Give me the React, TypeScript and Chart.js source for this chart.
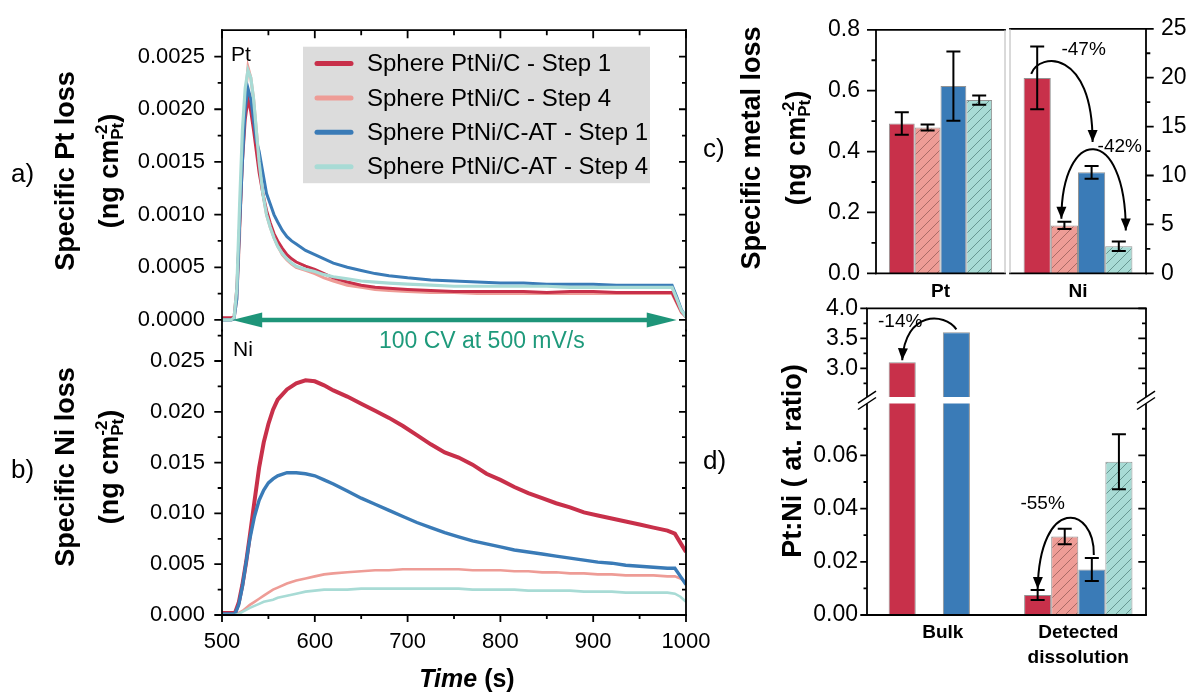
import React, { useEffect, useRef } from 'react';
import { Chart, registerables } from 'chart.js';

Chart.register(...registerables);

const W = 1190;
const H = 693;
const FONT = "'Liberation Sans', Arial, Helvetica, sans-serif";

// ---------------- Data ----------------
const seriesLabels = [
  'Sphere PtNi/C - Step 1',
  'Sphere PtNi/C - Step 4',
  'Sphere PtNi/C-AT - Step 1',
  'Sphere PtNi/C-AT - Step 4',
];
const seriesColors = ['#C8304A', '#EE9C96', '#3A7BB7', '#A8DBD5'];

// a) specific Pt loss vs time
const timePt = [500, 505, 510, 513, 516, 519, 522, 525, 528, 531, 534, 537, 540, 544, 548, 552, 556, 560, 565, 570, 575, 580, 590, 600, 610, 620, 635, 650, 665, 680, 700, 725, 750, 775, 800, 825, 850, 875, 900, 925, 950, 970, 985, 990, 995, 1000];
const ptStep1 = [0.00002, 0.00002, 0.00002, 0.00003, 0.0003, 0.0009, 0.0015, 0.0019, 0.0021, 0.00198,
  0.0018, 0.0016, 0.0014, 0.0012, 0.00104, 0.00092, 0.00082, 0.00075, 0.00068, 0.00062,
  0.00058, 0.00055, 0.00051, 0.00048, 0.00044, 0.0004, 0.00036, 0.00033, 0.00031, 0.0003,
  0.00029, 0.00028, 0.00027, 0.00027, 0.00027, 0.00027, 0.00026, 0.00027, 0.00027, 0.00026,
  0.00026, 0.00026, 0.00026, 0.00017, 0.00008, 0.00003];
const ptStep4 = [0, 0, 0, 0.00001, 0.0002, 0.0008, 0.0016, 0.0021, 0.0024, 0.0023,
  0.0021, 0.0018, 0.0015, 0.0012, 0.001, 0.00088, 0.00078, 0.0007, 0.00062, 0.00057,
  0.00053, 0.0005, 0.00047, 0.00044, 0.0004, 0.00037, 0.00033, 0.00031, 0.00029, 0.00028,
  0.00027, 0.00026, 0.00026, 0.00025, 0.00025, 0.00025, 0.00025, 0.00025, 0.00025, 0.00025,
  0.00025, 0.00025, 0.00025, 0.00016, 0.00007, 0.00003];
const ptAtStep1 = [0, 0, 0, 0.00001, 0.0002, 0.0009, 0.0015, 0.002, 0.0022, 0.0021,
  0.0019, 0.0017, 0.0016, 0.0014, 0.0012, 0.0011, 0.001, 0.00093, 0.00085, 0.00079,
  0.00075, 0.00072, 0.00066, 0.00062, 0.00058, 0.00054, 0.0005, 0.00047, 0.00044, 0.00042,
  0.0004, 0.00038, 0.00037, 0.00036, 0.00035, 0.00035, 0.00034, 0.00034, 0.00034, 0.00033,
  0.00033, 0.00033, 0.00033, 0.00022, 0.0001, 0.00003];
const ptAtStep4 = [0, 0, 0, 0.00002, 0.0003, 0.0011, 0.0018, 0.0022, 0.00237, 0.0023,
  0.0021, 0.0018, 0.0015, 0.0012, 0.001, 0.00088, 0.00078, 0.0007, 0.00063, 0.00058,
  0.00054, 0.00051, 0.00048, 0.00046, 0.00043, 0.00041, 0.00039, 0.00037, 0.00036, 0.00035,
  0.00034, 0.00033, 0.00032, 0.00032, 0.00032, 0.00032, 0.00032, 0.00031, 0.00031, 0.00031,
  0.00031, 0.00031, 0.00031, 0.0002, 0.00009, 0.00003];

// b) specific Ni loss vs time
const timeNi = [500, 510, 514, 518, 522, 526, 530, 535, 540, 545, 550, 555, 560, 570, 580, 590, 600, 610, 620, 635, 650, 665, 680, 695, 710, 725, 740, 755, 770, 785, 800, 815, 830, 845, 860, 875, 890, 905, 920, 935, 950, 965, 980, 988, 994, 1000];
const niStep1 = [0.0002, 0.0002, 0.0002, 0.0012, 0.003, 0.0052, 0.0078, 0.0112, 0.0145, 0.017,
  0.0188, 0.0202, 0.0212, 0.0222, 0.0228, 0.0231, 0.023, 0.0226, 0.0221, 0.0215,
  0.0208, 0.0201, 0.0194, 0.0186, 0.0177, 0.0168, 0.016, 0.0155, 0.0148, 0.0139,
  0.0133, 0.0126, 0.012, 0.0115, 0.011, 0.0106, 0.0101, 0.0098, 0.0095, 0.0092,
  0.0089, 0.0086, 0.0083, 0.008, 0.0071, 0.0062];
const niStep4 = [0, 0, 0, 0.0002, 0.0004, 0.0007, 0.001, 0.0013, 0.0016, 0.0019,
  0.0022, 0.0025, 0.0027, 0.0031, 0.0034, 0.0036, 0.0038, 0.004, 0.0041, 0.0042,
  0.0043, 0.0044, 0.0044, 0.0045, 0.0045, 0.0045, 0.0045, 0.0045, 0.0044, 0.0044,
  0.0044, 0.0043, 0.0043, 0.0042, 0.0042, 0.0041, 0.0041, 0.004, 0.004, 0.0039,
  0.0039, 0.0039, 0.0038, 0.0038, 0.0036, 0.0032];
const niAtStep1 = [0.0001, 0.0001, 0.0001, 0.001, 0.0028, 0.0052, 0.0075, 0.0097, 0.0113, 0.0123,
  0.013, 0.0134, 0.0137, 0.014, 0.014, 0.0139, 0.0137, 0.0133, 0.0129, 0.0122,
  0.0115, 0.0109, 0.0103, 0.0097, 0.0091, 0.0086, 0.0081, 0.0077, 0.0073, 0.007,
  0.0067, 0.0064, 0.0062, 0.006, 0.0058, 0.0056, 0.0054, 0.0052, 0.0051, 0.0049,
  0.0048, 0.0047, 0.0046, 0.0046, 0.0038, 0.003];
const niAtStep4 = [0, 0, 0, 0.0001, 0.0003, 0.0005, 0.0007, 0.0009, 0.0011, 0.0013,
  0.0014, 0.0015, 0.0017, 0.0019, 0.0021, 0.0023, 0.0024, 0.0025, 0.0025, 0.0025,
  0.0026, 0.0026, 0.0026, 0.0026, 0.0026, 0.0026, 0.0026, 0.0026, 0.0025, 0.0025,
  0.0025, 0.0025, 0.0024, 0.0024, 0.0024, 0.0024, 0.0023, 0.0023, 0.0023, 0.0022,
  0.0022, 0.0022, 0.0022, 0.0021, 0.0018, 0.0013];

const ptTicks = [0, 0.0005, 0.001, 0.0015, 0.002, 0.0025];
const ptMinorTicks = [0.00025, 0.00075, 0.00125, 0.00175, 0.00225];
const niTicks = [0, 0.005, 0.01, 0.015, 0.02, 0.025];
const niMinorTicks = [0.0025, 0.0075, 0.0125, 0.0175, 0.0225, 0.0275];
const timeTicks = [500, 600, 700, 800, 900, 1000];
const timeMinorTicks = [550, 650, 750, 850, 950];
const cvArrow = [511, 990];
const cvLabel = '100 CV at 500 mV/s';
const cvLabelAt = 780;

// c) specific metal loss
const lossCategories = ['Pt', 'Ni'];
const ptLoss = [0.492, 0.479, 0.615, 0.569];
const ptLossErr = [0.037, 0.01, 0.114, 0.015];
const niLoss = [19.98, 4.9, 10.33, 2.77];
const niLossErr = [3.2, 0.37, 0.65, 0.48];
const lossLeftTicks = [0, 0.2, 0.4, 0.6, 0.8];
const lossLeftMinor = [0.1, 0.3, 0.5, 0.7];
const lossRightTicks = [0, 5, 10, 15, 20, 25];
const lossRightMinor = [2.5, 7.5, 12.5, 17.5, 22.5];

// d) Pt:Ni ratio
const ratioCategories: any[] = ['Bulk', ['Detected', 'dissolution']];
const ratioStep1 = [3.1, 0.0075];
const ratioStep4 = [null, 0.0295];
const ratioAtStep1 = [3.6, 0.0171];
const ratioAtStep4 = [null, 0.0576];
const ratioErrStep1 = [null, 0.0019];
const ratioErrStep4 = [null, 0.0029];
const ratioErrAtStep1 = [null, 0.0043];
const ratioErrAtStep4 = [null, 0.0103];
const ratioUpperTicks = [3.0, 3.5, 4.0];
const ratioUpperMinor = [2.75, 3.25, 3.75];
const ratioLowerTicks = [0, 0.02, 0.04, 0.06];
const ratioLowerMinor = [0.01, 0.03, 0.05, 0.07];

// ---------------- helpers ----------------
const AXW = 1.8;
const BAR_EDGE = 'rgba(120,120,120,0.8)';
const CV_COLOR = '#1E9579';

function seg(ctx: any, x1: number, y1: number, x2: number, y2: number) {
  ctx.beginPath();
  ctx.moveTo(x1, y1);
  ctx.lineTo(x2, y2);
  ctx.stroke();
}

function tickMarks(ctx: any, scale: any, a: any, side: string, values: number[], len: number, inward: boolean) {
  ctx.beginPath();
  for (const v of values) {
    const p = scale.getPixelForValue(v);
    if (side === 'left') { ctx.moveTo(a.left, p); ctx.lineTo(a.left + (inward ? len : -len), p); }
    else if (side === 'right') { ctx.moveTo(a.right, p); ctx.lineTo(a.right + (inward ? -len : len), p); }
    else if (side === 'top') { ctx.moveTo(p, a.top); ctx.lineTo(p, a.top + (inward ? len : -len)); }
    else { ctx.moveTo(p, a.bottom); ctx.lineTo(p, a.bottom + (inward ? -len : len)); }
  }
  ctx.stroke();
}

function txt(ctx: any, s: string, x: number, y: number, font: string, align = 'left', baseline = 'alphabetic', color = '#000') {
  ctx.font = font;
  ctx.textAlign = align;
  ctx.textBaseline = baseline;
  ctx.fillStyle = color;
  ctx.fillText(s, x, y);
}

type Piece = { t?: string; sup?: string; sub?: string; f: string };
function rich(ctx: any, x: number, y: number, pieces: Piece[], rotate: boolean) {
  ctx.save();
  ctx.translate(x, y);
  if (rotate) ctx.rotate(-Math.PI / 2);
  ctx.textBaseline = 'alphabetic';
  ctx.textAlign = 'left';
  ctx.fillStyle = '#000';
  const widths = pieces.map((p) => {
    ctx.font = p.f;
    if (p.t !== undefined) return ctx.measureText(p.t).width;
    return Math.max(ctx.measureText(p.sup || '').width, ctx.measureText(p.sub || '').width);
  });
  const total = widths.reduce((s, w) => s + w, 0);
  let cx = -total / 2;
  pieces.forEach((p, i) => {
    ctx.font = p.f;
    if (p.t !== undefined) ctx.fillText(p.t, cx, 0);
    else {
      ctx.fillText(p.sup || '', cx, -11);
      ctx.fillText(p.sub || '', cx, 5);
    }
    cx += widths[i];
  });
  ctx.restore();
}

const TF = `bold 27px ${FONT}`;
const SF = `bold 17px ${FONT}`;
const unitPieces: Piece[] = [{ t: '(ng cm', f: TF }, { sup: '-2', sub: 'Pt', f: SF }, { t: ')', f: TF }];

function arrowHead(ctx: any, tx: number, ty: number, fx: number, fy: number, len = 12, half = 5) {
  const ang = Math.atan2(ty - fy, tx - fx);
  const bx = tx - len * Math.cos(ang);
  const by = ty - len * Math.sin(ang);
  ctx.beginPath();
  ctx.moveTo(tx, ty);
  ctx.lineTo(bx + half * Math.sin(ang), by - half * Math.cos(ang));
  ctx.lineTo(bx - half * Math.sin(ang), by + half * Math.cos(ang));
  ctx.closePath();
  ctx.fill();
}

function curvedArrow(ctx: any, S: number[], C1: number[], C2: number[], E: number[], both = false) {
  ctx.strokeStyle = '#000';
  ctx.fillStyle = '#000';
  ctx.lineWidth = 2;
  ctx.beginPath();
  ctx.moveTo(S[0], S[1]);
  ctx.bezierCurveTo(C1[0], C1[1], C2[0], C2[1], E[0], E[1]);
  ctx.stroke();
  arrowHead(ctx, E[0], E[1], C2[0], C2[1]);
  if (both) arrowHead(ctx, S[0], S[1], C1[0], C1[1]);
}

function drawErrors(ctx: any, chart: any, vals: (number | null)[][], errs: (number | null)[][]) {
  const ys = chart.scales.y;
  ctx.strokeStyle = '#000';
  ctx.lineWidth = 2;
  vals.forEach((row, i) => row.forEach((v, j) => {
    const e = errs[i][j];
    if (v == null || e == null) return;
    const el: any = chart.getDatasetMeta(i).data[j];
    if (!el) return;
    const x = el.x;
    const yt = ys.getPixelForValue(v + e);
    const yb = ys.getPixelForValue(v - e);
    ctx.beginPath();
    ctx.moveTo(x, yt); ctx.lineTo(x, yb);
    ctx.moveTo(x - 7, yt); ctx.lineTo(x + 7, yt);
    ctx.moveTo(x - 7, yb); ctx.lineTo(x + 7, yb);
    ctx.stroke();
  }));
}

function makeHatch(bg: string, lineColor: string) {
  const c = document.createElement('canvas');
  c.width = 10;
  c.height = 10;
  const x = c.getContext('2d')!;
  x.fillStyle = bg;
  x.fillRect(0, 0, 10, 10);
  x.strokeStyle = lineColor;
  x.lineWidth = 1;
  x.beginPath();
  x.moveTo(0, 10); x.lineTo(10, 0);
  x.moveTo(-5, 5); x.lineTo(5, -5);
  x.moveTo(5, 15); x.lineTo(15, 5);
  x.stroke();
  return x.createPattern(c, 'repeat');
}

function pad(l: number, t: number, r: number, b: number, s: any) {
  return {
    left: l - (s.left || 0),
    top: t - (s.top || 0),
    right: W - r - (s.right || 0),
    bottom: H - b - (s.bottom || 0),
  };
}

function yScale(position: string, min: number, max: number, ticks: number[], fmt: (v: number) => string, width: number, padding: number, size: number) {
  return {
    type: 'linear', position, min, max,
    grid: { display: false, drawTicks: false },
    border: { display: false },
    afterBuildTicks: (s: any) => { s.ticks = ticks.map((v) => ({ value: v })); },
    afterFit: (s: any) => { s.width = width; },
    ticks: { autoSkip: false, padding, color: '#000', font: { family: FONT, size }, callback: (v: any) => fmt(Number(v)) },
  };
}

function baseOptions(padding: any) {
  return {
    responsive: false,
    animation: false,
    events: [],
    layout: { padding },
    plugins: { legend: { display: false }, tooltip: { enabled: false }, title: { display: false } },
  };
}

function lineDatasets(times: number[], series: number[][], widths: number[]) {
  const orders = [2, 3, 1, 0];
  return series.map((arr, i) => ({
    label: seriesLabels[i],
    data: times.map((t, k) => ({ x: t, y: arr[k] })),
    borderColor: seriesColors[i],
    backgroundColor: seriesColors[i],
    borderWidth: widths[i],
    pointRadius: 0,
    tension: 0,
    fill: false,
    order: orders[i],
  }));
}

// ---------------- plugins ----------------
const pluginA = {
  id: 'decorA',
  afterDraw(chart: any) {
    const ctx = chart.ctx;
    const a = chart.chartArea;
    const xs = chart.scales.x;
    const ys = chart.scales.y;
    ctx.save();
    ctx.strokeStyle = '#000';
    ctx.lineWidth = AXW;
    ctx.lineCap = 'square';
    seg(ctx, a.left, a.top, a.right, a.top);
    seg(ctx, a.left, a.top, a.left, a.bottom);
    seg(ctx, a.right, a.top, a.right, a.bottom);
    ctx.lineCap = 'butt';
    tickMarks(ctx, ys, a, 'left', ptTicks, 7.7, false);
    tickMarks(ctx, ys, a, 'left', ptMinorTicks, 4.3, false);
    tickMarks(ctx, ys, a, 'right', ptTicks, 7, true);
    tickMarks(ctx, ys, a, 'right', ptMinorTicks, 4, true);
    tickMarks(ctx, xs, a, 'top', timeTicks, 8, true);
    tickMarks(ctx, xs, a, 'top', timeMinorTicks, 5, true);

    // CV double arrow
    const y0 = ys.getPixelForValue(0);
    const xl = xs.getPixelForValue(cvArrow[0]);
    const xr = xs.getPixelForValue(cvArrow[1]);
    ctx.strokeStyle = CV_COLOR;
    ctx.fillStyle = CV_COLOR;
    ctx.lineWidth = 4.5;
    seg(ctx, xl + 25, y0, xr - 25, y0);
    arrowHead(ctx, xl, y0, xl + 10, y0, 30, 7.5);
    arrowHead(ctx, xr, y0, xr - 10, y0, 30, 7.5);
    txt(ctx, cvLabel, xs.getPixelForValue(cvLabelAt), y0 + 22, `23px ${FONT}`, 'center', 'middle', '#1E9A7B');

    // legend
    const lx = 303, ly = 46.7, lw = 347, lh = 136.5;
    ctx.fillStyle = '#DCDCDC';
    ctx.fillRect(lx, ly, lw, lh);
    seriesLabels.forEach((lab, i) => {
      const yy = 63.5 + i * 34.4;
      ctx.strokeStyle = seriesColors[i];
      ctx.lineWidth = 5;
      ctx.lineCap = 'round';
      seg(ctx, 317, yy, 351, yy);
      txt(ctx, lab, 367, yy + 1, `24px ${FONT}`, 'left', 'middle');
    });

    txt(ctx, 'Pt', a.left + 9, a.top + 25, `21px ${FONT}`, 'left', 'middle');
    txt(ctx, 'a)', 11, 181.5, `26px ${FONT}`);
    rich(ctx, 74.3, 171, [{ t: 'Specific Pt loss', f: TF }], true);
    rich(ctx, 117.8, 171, unitPieces, true);
    ctx.restore();
  },
};

const pluginB = {
  id: 'decorB',
  afterDraw(chart: any) {
    const ctx = chart.ctx;
    const a = chart.chartArea;
    const xs = chart.scales.x;
    const ys = chart.scales.y;
    ctx.save();
    ctx.strokeStyle = '#000';
    ctx.lineWidth = AXW;
    ctx.lineCap = 'square';
    seg(ctx, a.left, a.top, a.left, a.bottom);
    seg(ctx, a.right, a.top, a.right, a.bottom);
    seg(ctx, a.left, a.bottom, a.right, a.bottom);
    ctx.lineCap = 'butt';
    tickMarks(ctx, ys, a, 'left', niTicks, 7.7, false);
    tickMarks(ctx, ys, a, 'left', niMinorTicks, 4.3, false);
    tickMarks(ctx, ys, a, 'right', niTicks, 7, true);
    tickMarks(ctx, ys, a, 'right', niMinorTicks, 4, true);
    tickMarks(ctx, xs, a, 'bottom', timeTicks, 7, false);
    tickMarks(ctx, xs, a, 'bottom', timeMinorTicks, 4, false);

    txt(ctx, 'Ni', a.left + 11, a.top + 20, `21px ${FONT}`, 'left', 'middle');
    txt(ctx, 'b)', 11, 477.5, `26px ${FONT}`);
    rich(ctx, 74.3, 467, [{ t: 'Specific Ni loss', f: TF }], true);
    rich(ctx, 117.8, 467, unitPieces, true);
    rich(ctx, 467, 687, [{ t: 'Time', f: `italic bold 25px ${FONT}` }, { t: ' (s)', f: `bold 25px ${FONT}` }], false);
    ctx.restore();
  },
};

const pluginCPt = {
  id: 'decorCPt',
  afterDraw(chart: any) {
    const ctx = chart.ctx;
    const a = chart.chartArea;
    const ys = chart.scales.y;
    ctx.save();
    drawErrors(ctx, chart, ptLoss.map((v) => [v]), ptLossErr.map((e) => [e]));
    ctx.strokeStyle = '#000';
    ctx.lineWidth = AXW;
    ctx.lineCap = 'square';
    seg(ctx, a.left, a.top, a.right, a.top);
    seg(ctx, a.left, a.top, a.left, a.bottom);
    seg(ctx, a.left, a.bottom, a.right, a.bottom);
    ctx.lineCap = 'butt';
    tickMarks(ctx, ys, a, 'left', lossLeftTicks, 9, false);
    tickMarks(ctx, ys, a, 'left', lossLeftMinor, 4.5, false);
    ctx.strokeStyle = '#B4B4B4';
    ctx.lineWidth = 1;
    seg(ctx, a.right, a.top, a.right, a.bottom);

    txt(ctx, 'c)', 703, 157, `26px ${FONT}`);
    rich(ctx, 759.5, 148, [{ t: 'Specific metal loss', f: TF }], true);
    rich(ctx, 804.5, 148, unitPieces, true);
    ctx.restore();
  },
};

const pluginCNi = {
  id: 'decorCNi',
  afterDraw(chart: any) {
    const ctx = chart.ctx;
    const a = chart.chartArea;
    const ys = chart.scales.y;
    ctx.save();
    drawErrors(ctx, chart, niLoss.map((v) => [v]), niLossErr.map((e) => [e]));
    ctx.strokeStyle = '#000';
    ctx.lineWidth = AXW;
    ctx.lineCap = 'square';
    seg(ctx, a.left, a.top, a.right, a.top);
    seg(ctx, a.right, a.top, a.right, a.bottom);
    seg(ctx, a.left, a.bottom, a.right, a.bottom);
    ctx.lineCap = 'butt';
    tickMarks(ctx, ys, a, 'right', lossRightTicks, 7.7, false);
    tickMarks(ctx, ys, a, 'right', lossRightMinor, 4.3, false);
    ctx.strokeStyle = '#B4B4B4';
    ctx.lineWidth = 1;
    seg(ctx, a.left, a.top, a.left, a.bottom);

    const el = (i: number) => chart.getDatasetMeta(i).data[0];
    const errTop = (i: number) => ys.getPixelForValue(niLoss[i] + niLossErr[i]);
    const red = el(0), pink = el(1), blue = el(2), teal = el(3);
    // -47 % : step 1 PtNi/C -> step 1 PtNi/C-AT
    const S1 = [red.x - 6, red.y - 4];
    const E1 = [blue.x + 1, errTop(2) - 24];
    curvedArrow(ctx, S1, [S1[0] + 8, S1[1] - 22], [E1[0], S1[1] - 25], E1);
    txt(ctx, '-47%', blue.x - 8, a.top + 21, `19px ${FONT}`, 'center', 'middle');
    // -42 % : step 4 PtNi/C -> step 4 PtNi/C-AT
    const S2 = [pink.x - 3, errTop(1) - 3];
    const E2 = [teal.x + 7, errTop(3) - 11];
    curvedArrow(ctx, S2, [S2[0], S2[1] - 93], [E2[0], E2[1] - 108], E2, true);
    txt(ctx, '-42%', teal.x + 1, blue.y - 26, `19px ${FONT}`, 'center', 'middle');
    ctx.restore();
  },
};

const pluginDUp = {
  id: 'decorDUp',
  afterDraw(chart: any) {
    const ctx = chart.ctx;
    const a = chart.chartArea;
    const ys = chart.scales.y;
    ctx.save();
    ctx.strokeStyle = '#000';
    ctx.lineWidth = AXW;
    ctx.lineCap = 'square';
    seg(ctx, a.left, a.top, a.right, a.top);
    ctx.lineCap = 'butt';
    seg(ctx, a.left, a.top, a.left, a.bottom);
    seg(ctx, a.right, a.top, a.right, a.bottom);
    tickMarks(ctx, ys, a, 'left', ratioUpperTicks, 6.7, false);
    tickMarks(ctx, ys, a, 'left', ratioUpperMinor, 3.5, false);
    tickMarks(ctx, ys, a, 'right', ratioUpperTicks, 7.7, true);
    tickMarks(ctx, ys, a, 'right', ratioUpperMinor, 4, true);

    const red = chart.getDatasetMeta(0).data[0];
    const blue = chart.getDatasetMeta(2).data[0];
    const S = [blue.x, blue.y - 3];
    const E = [red.x, red.y - 2];
    curvedArrow(ctx, S, [S[0] - 12, S[1] - 17], [E[0] + 3, S[1] - 19], E);
    txt(ctx, '-14%', red.x - 2, S[1] - 7.5, `19px ${FONT}`, 'center', 'middle');

    txt(ctx, 'd)', 703, 469, `26px ${FONT}`);
    rich(ctx, 801, 461, [{ t: 'Pt:Ni ( at. ratio)', f: TF }], true);
    ctx.restore();
  },
};

const pluginDLow = {
  id: 'decorDLow',
  afterDraw(chart: any) {
    const ctx = chart.ctx;
    const a = chart.chartArea;
    const ys = chart.scales.y;
    ctx.save();
    drawErrors(ctx, chart,
      [ratioStep1, ratioStep4, ratioAtStep1, ratioAtStep4],
      [ratioErrStep1, ratioErrStep4, ratioErrAtStep1, ratioErrAtStep4]);
    ctx.strokeStyle = '#000';
    ctx.lineWidth = AXW;
    ctx.lineCap = 'square';
    seg(ctx, a.left, a.bottom, a.right, a.bottom);
    ctx.lineCap = 'butt';
    seg(ctx, a.left, a.top, a.left, a.bottom);
    seg(ctx, a.right, a.top, a.right, a.bottom);
    tickMarks(ctx, ys, a, 'left', ratioLowerTicks, 6.7, false);
    tickMarks(ctx, ys, a, 'left', ratioLowerMinor, 3.5, false);
    tickMarks(ctx, ys, a, 'right', ratioLowerTicks, 7.7, true);
    tickMarks(ctx, ys, a, 'right', ratioLowerMinor, 4, true);

    // axis break marks
    ctx.lineWidth = 1.5;
    for (const x of [a.left, a.right]) {
      for (const y of [a.top - 6.4, a.top]) {
        seg(ctx, x - 9, y + 6, x + 9, y - 6);
      }
    }

    const red = chart.getDatasetMeta(0).data[1];
    const blue = chart.getDatasetMeta(2).data[1];
    const errTop = (v: number, e: number) => ys.getPixelForValue(v + e);
    const S = [blue.x + 2, errTop(ratioAtStep1[1] as number, ratioErrAtStep1[1] as number) - 3];
    const E = [red.x, errTop(ratioStep1[1] as number, ratioErrStep1[1] as number) - 1];
    curvedArrow(ctx, S, [S[0] + 1, S[1] - 50], [E[0] + 2, S[1] - 60], E);
    txt(ctx, '-55%', red.x + 5, S[1] - 51, `19px ${FONT}`, 'center', 'middle');
    ctx.restore();
  },
};

// ---------------- configs ----------------
function configA(): any {
  return {
    type: 'line',
    data: { datasets: lineDatasets(timePt, [ptStep1, ptStep4, ptAtStep1, ptAtStep4], [3, 3, 3, 3.2]) },
    options: {
      ...baseOptions(pad(222, 23, 686, 330.5, { left: 110 })),
      scales: {
        x: { type: 'linear', min: 500, max: 1000, display: false },
        y: yScale('left', -0.0001, 0.00275, ptTicks, (v) => v.toFixed(4), 110, 17, 22),
      },
    },
    plugins: [pluginA],
  };
}

function configB(): any {
  return {
    type: 'line',
    data: { datasets: lineDatasets(timeNi, [niStep1, niStep4, niAtStep1, niAtStep4], [4, 2.6, 3.4, 2.6]) },
    options: {
      ...baseOptions(pad(222, 330.5, 686, 615, { left: 110, bottom: 50 })),
      scales: {
        x: {
          type: 'linear', min: 500, max: 1000, position: 'bottom',
          grid: { display: false, drawTicks: false },
          border: { display: false },
          afterBuildTicks: (s: any) => { s.ticks = timeTicks.map((v) => ({ value: v })); },
          afterFit: (s: any) => { s.height = 50; },
          ticks: { autoSkip: false, maxRotation: 0, minRotation: 0, padding: 13.5, color: '#000', font: { family: FONT, size: 22 }, callback: (v: any) => String(v) },
        },
        y: yScale('left', 0, 0.028, niTicks, (v) => v.toFixed(3), 110, 17, 22),
      },
    },
    plugins: [pluginB],
  };
}

function catX(height: number) {
  return {
    type: 'category',
    grid: { display: false, drawTicks: false },
    border: { display: false },
    afterFit: (s: any) => { s.height = height; },
    ticks: { padding: 7.3, color: '#000', font: { family: FONT, size: 19, weight: 'bold' } },
  };
}

function configC(cat: string, values: number[], fills: any[], yAx: any, padding: any, plugin: any): any {
  return {
    type: 'bar',
    data: {
      labels: [cat],
      datasets: seriesLabels.map((l, i) => ({
        label: l,
        data: [values[i]],
        backgroundColor: fills[i],
        borderColor: BAR_EDGE,
        borderWidth: 1,
        categoryPercentage: 0.8,
        barPercentage: 1,
        clip: 0,
      })),
    },
    options: {
      ...baseOptions(padding),
      scales: { x: catX(40), y: yAx },
    },
    plugins: [plugin],
  };
}

function ratioX(display: boolean) {
  return {
    type: 'linear', min: 0.44, max: 2.5, display, position: 'bottom', offset: false,
    grid: { display: false, drawTicks: false, offset: false },
    border: { display: false },
    afterBuildTicks: (s: any) => { s.ticks = ratioCategories.map((_, i) => ({ value: i + 1 })); },
    afterFit: (s: any) => { s.height = display ? 60 : 0; },
    ticks: {
      autoSkip: false, maxRotation: 0, minRotation: 0, padding: 6, color: '#000',
      font: { family: FONT, size: 19, weight: 'bold', lineHeight: 1.28 },
      callback: (v: any) => ratioCategories[Math.round(Number(v)) - 1],
    },
  };
}

function configD(upper: boolean, fills: any[]): any {
  const vals = [ratioStep1, ratioStep4, ratioAtStep1, ratioAtStep4];
  return {
    type: 'bar',
    data: {
      datasets: seriesLabels.map((l, i) => ({
        label: l,
        data: vals[i].map((v, k) => ({ x: k + 1, y: v })),
        backgroundColor: fills[i],
        borderColor: BAR_EDGE,
        borderWidth: 1,
        categoryPercentage: 0.8,
        barPercentage: 1,
        clip: 0,
      })),
    },
    options: {
      ...baseOptions(upper
        ? pad(867, 308.3, 1146, 397.1, { left: 80 })
        : pad(867, 403.5, 1146, 615, { left: 80, bottom: 60 })),
      scales: {
        x: ratioX(!upper),
        y: upper
          ? yScale('left', 2.52, 4.0, ratioUpperTicks, (v) => v.toFixed(1), 80, 9, 23)
          : yScale('left', 0, 0.0795, ratioLowerTicks, (v) => v.toFixed(2), 80, 9, 23),
      },
    },
    plugins: [upper ? pluginDUp : pluginDLow],
  };
}

export default function App() {
  const rA = useRef<HTMLCanvasElement>(null);
  const rB = useRef<HTMLCanvasElement>(null);
  const rC1 = useRef<HTMLCanvasElement>(null);
  const rC2 = useRef<HTMLCanvasElement>(null);
  const rD1 = useRef<HTMLCanvasElement>(null);
  const rD2 = useRef<HTMLCanvasElement>(null);

  useEffect(() => {
    const pinkHatch = makeHatch(seriesColors[1], 'rgba(125,75,72,0.6)');
    const tealHatch = makeHatch(seriesColors[3], 'rgba(60,105,100,0.6)');
    const fills = [seriesColors[0], pinkHatch, seriesColors[2], tealHatch];
    const charts: Chart[] = [
      new Chart(rA.current!, configA()),
      new Chart(rB.current!, configB()),
      new Chart(rC1.current!, configC(lossCategories[0], ptLoss, fills,
        yScale('left', 0, 0.8, lossLeftTicks, (v) => v.toFixed(1), 60, 16, 23),
        pad(876, 24, 1005, 273.3, { left: 60, bottom: 40 }), pluginCPt)),
      new Chart(rC2.current!, configC(lossCategories[1], niLoss, fills,
        yScale('right', 0, 25, lossRightTicks, (v) => String(v), 50, 15, 23),
        pad(1010, 24, 1146, 273.3, { right: 50, bottom: 40 }), pluginCNi)),
      new Chart(rD1.current!, configD(true, fills)),
      new Chart(rD2.current!, configD(false, fills)),
    ];
    return () => charts.forEach((c) => c.destroy());
  }, []);

  const cs: any = { position: 'absolute', left: 0, top: 0, width: W, height: H };
  return (
    <div style={{ position: 'absolute', left: 0, top: 0, width: W, height: H, background: '#fff', overflow: 'hidden' }}>
      <canvas ref={rA} width={W} height={H} style={cs} />
      <canvas ref={rB} width={W} height={H} style={cs} />
      <canvas ref={rC1} width={W} height={H} style={cs} />
      <canvas ref={rC2} width={W} height={H} style={cs} />
      <canvas ref={rD1} width={W} height={H} style={cs} />
      <canvas ref={rD2} width={W} height={H} style={cs} />
    </div>
  );
}
